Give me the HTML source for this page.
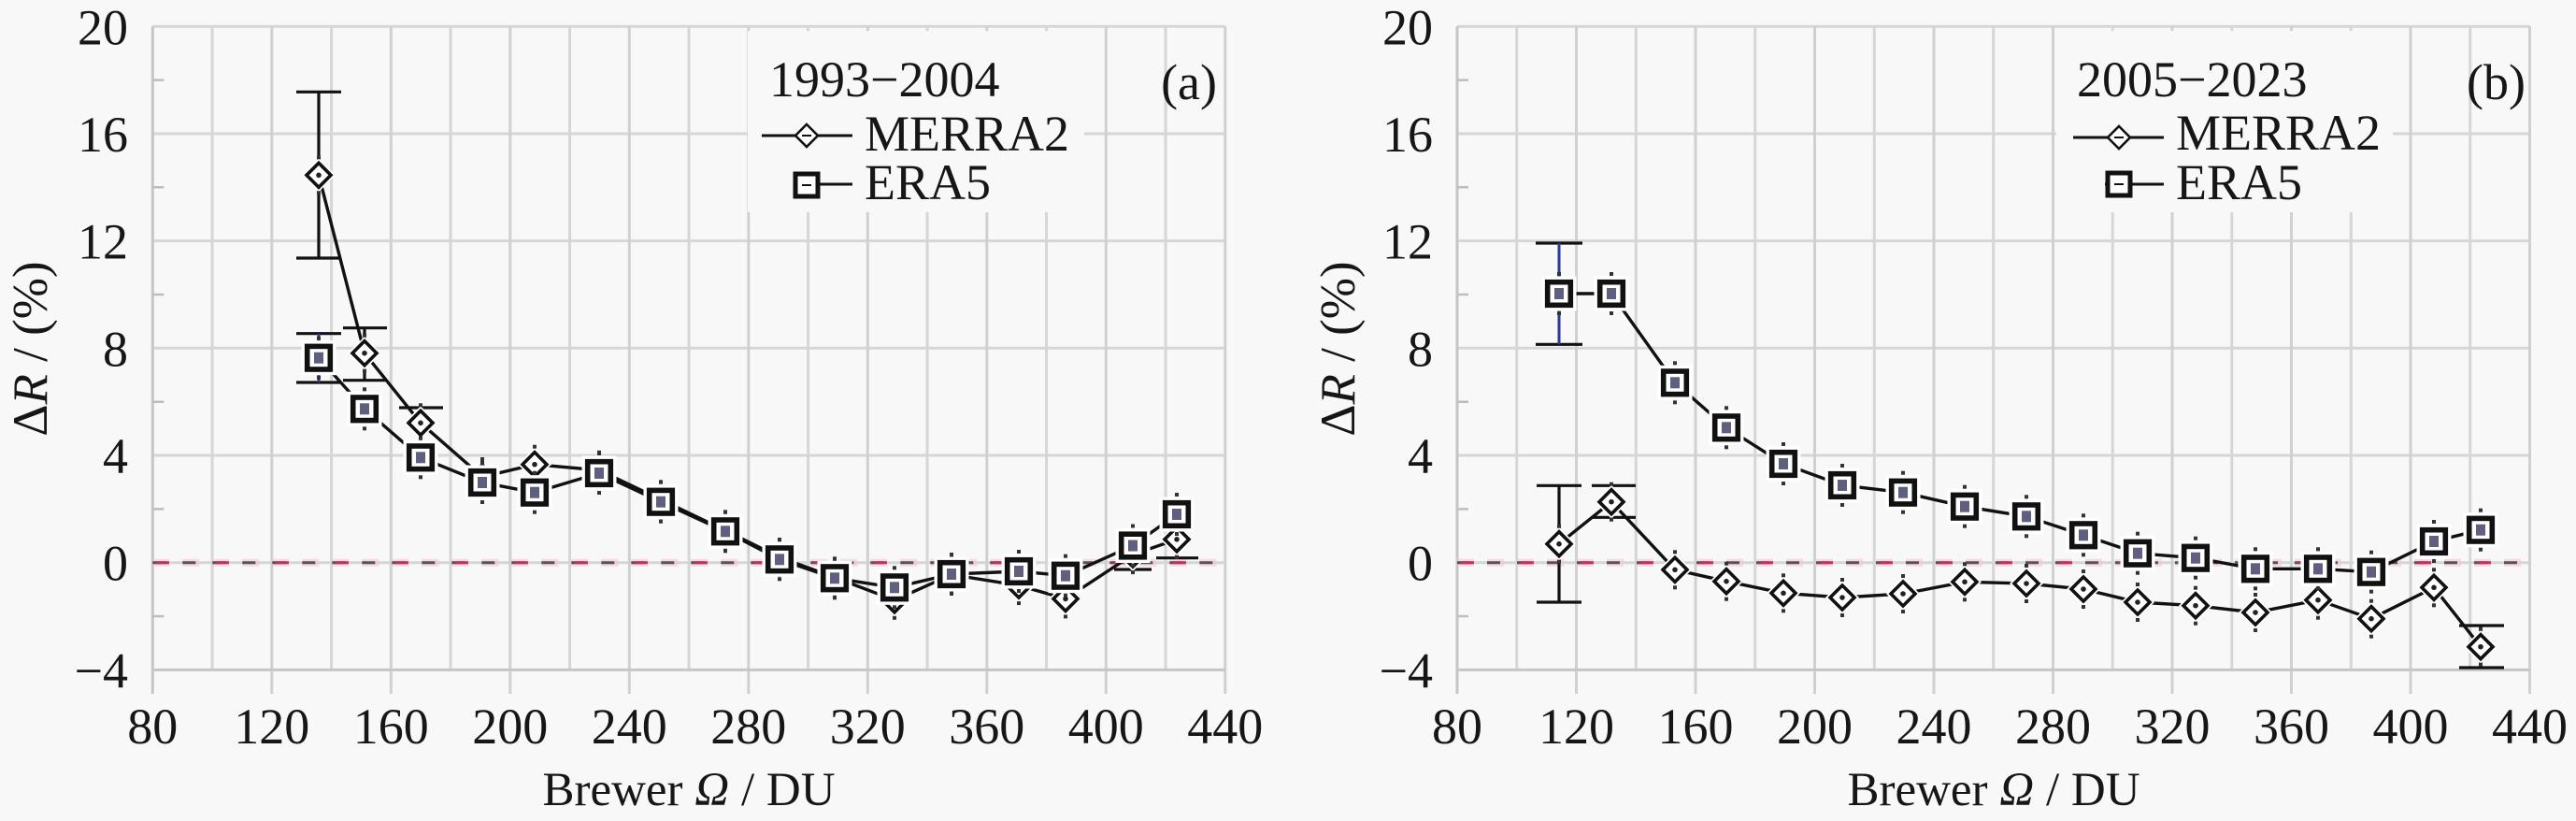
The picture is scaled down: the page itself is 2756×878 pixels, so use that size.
<!DOCTYPE html>
<html><head><meta charset="utf-8"><style>
html,body{margin:0;padding:0;background:#f8f8f8;}
svg{display:block;font-family:"Liberation Serif","Times New Roman",Times,serif;}
svg text{font-family:"Liberation Serif","Times New Roman",Times,serif;fill:#161616;}
</style></head><body>
<svg width="2756" height="878" viewBox="0 0 2756 878" xmlns="http://www.w3.org/2000/svg" font-family="'Liberation Serif', 'Times New Roman', Times, serif" style="font-family:'Liberation Serif','Times New Roman',Times,serif;">
<defs>
<g id="grid">
<path d="M163.3 28.3H1310.8M163.3 143H1310.8M163.3 257.6H1310.8M163.3 372.3H1310.8M163.3 487H1310.8M163.3 601.7H1310.8" stroke="#d6d6d6" stroke-width="3" fill="none"/>
<path d="M227.05 28.3V716.4M354.55 28.3V716.4M482.05 28.3V716.4M609.55 28.3V716.4M737.05 28.3V716.4M864.55 28.3V716.4M992.05 28.3V716.4M1119.55 28.3V716.4M1247.05 28.3V716.4" stroke="#d6d6d6" stroke-width="3" fill="none"/>
<path d="M290.8 28.3V742M418.3 28.3V742M545.8 28.3V742M673.3 28.3V742M800.8 28.3V742M928.3 28.3V742M1055.8 28.3V742M1183.3 28.3V742M1310.8 28.3V742" stroke="#d0d0d0" stroke-width="3" fill="none"/>
<path d="M163.3 28.3V742M163.3 716.4H1310.8" stroke="#c6c6c6" stroke-width="3" fill="none"/>
<path d="M163.3 85.6h12M163.3 200.3h12M163.3 315h12M163.3 429.7h12M163.3 544.4h12M163.3 659h12" stroke="#bdbdbd" stroke-width="2.5" fill="none"/>
</g>
<g id="dia"><polygon points="0,-18 18,0 0,18 -18,0" fill="#ffffff"/><polygon points="0,-13 13,0 0,13 -13,0" fill="#ffffff" stroke="#111" stroke-width="3.6"/><circle r="2.8" fill="#222"/><rect x="-2" y="-21" width="4" height="4" fill="#333"/><rect x="-2" y="17" width="4" height="4" fill="#333"/></g>
<g id="sq"><rect x="-18.5" y="-18.5" width="37" height="37" fill="#ffffff"/><rect x="-12.3" y="-12.3" width="24.6" height="24.6" fill="#ffffff" stroke="#111" stroke-width="5.6"/><rect x="-5" y="-6" width="10" height="12" fill="#2a2a55" opacity="0.75"/><rect x="-2" y="-23" width="4" height="4" fill="#333"/><rect x="-2" y="19" width="4" height="4" fill="#333"/></g>
</defs>

<use href="#grid"/>
<use href="#grid" transform="translate(1395.7,0)"/>

<rect x="800" y="33" width="360" height="194" fill="#f8f8f8"/>
<rect x="2200" y="33" width="360" height="194" fill="#f8f8f8"/>

<g fill="none">
<path d="M163.3 601.7H1310.8M1559 601.7H2706.5" stroke="#f4c6d6" stroke-width="8" stroke-dasharray="18 14" opacity="0.6"/>
<path d="M163.3 601.7H1310.8M1559 601.7H2706.5" stroke="#555" stroke-width="3" stroke-dasharray="14 18"/>
<path d="M167 601.7H1310.8M1563 601.7H2706.5" stroke="#c4325a" stroke-width="3" stroke-dasharray="14 50"/>
</g>

<g stroke="#111" stroke-width="3.2" fill="none">
<path d="M341 98.3V276M317 98.3H365M317 276H365"/>
<path d="M390 350.7V406.7M367 350.7H414M367 406.7H414"/>
<path d="M450 436V468.6M427 436H474"/>
<path d="M1212 577V609M1192 609H1232"/>
<path d="M1259 557V596.7M1237 596.7H1282"/>
<path d="M317 356.7H365M317 409H365"/>
</g>
<path d="M341 356.7V409" stroke="#2b3a9a" stroke-width="3"/>
<polyline fill="none" stroke="#111" stroke-width="3.4" points="341,187.3 390,377.7 450,452.3 516,510 572,496.7 641,502.8 707,534.3 776,567.3 834,596 893,617.5 957,641.8 1018,614.6 1090,626.1 1140,640.4 1212,593.1 1259,576.8"/>
<use href="#dia" x="341" y="187.3"/><use href="#dia" x="390" y="377.7"/><use href="#dia" x="450" y="452.3"/><use href="#dia" x="516" y="510"/><use href="#dia" x="572" y="496.7"/><use href="#dia" x="641" y="502.8"/><use href="#dia" x="707" y="534.3"/><use href="#dia" x="776" y="567.3"/><use href="#dia" x="834" y="596"/><use href="#dia" x="893" y="617.5"/><use href="#dia" x="957" y="641.8"/><use href="#dia" x="1018" y="614.6"/><use href="#dia" x="1090" y="626.1"/><use href="#dia" x="1140" y="640.4"/><use href="#dia" x="1212" y="593.1"/><use href="#dia" x="1259" y="576.8"/>
<polyline fill="none" stroke="#111" stroke-width="3.4" points="341,382.7 390,437.3 450,489.3 516,516 572,526.7 641,506 707,536.7 776,568.3 834,598.3 893,618.3 957,628.3 1018,614 1090,611 1140,615.7 1212,583.5 1259,550"/>
<use href="#sq" x="341" y="382.7"/><use href="#sq" x="390" y="437.3"/><use href="#sq" x="450" y="489.3"/><use href="#sq" x="516" y="516"/><use href="#sq" x="572" y="526.7"/><use href="#sq" x="641" y="506"/><use href="#sq" x="707" y="536.7"/><use href="#sq" x="776" y="568.3"/><use href="#sq" x="834" y="598.3"/><use href="#sq" x="893" y="618.3"/><use href="#sq" x="957" y="628.3"/><use href="#sq" x="1018" y="614"/><use href="#sq" x="1090" y="611"/><use href="#sq" x="1140" y="615.7"/><use href="#sq" x="1212" y="583.5"/><use href="#sq" x="1259" y="550"/>

<g stroke="#111" stroke-width="3.2" fill="none">
<path d="M1643 260H1693M1643 368.3H1693"/>
<path d="M1668 519.3V644M1644 519.3H1692M1644 644H1692"/>
<path d="M1724 519.3V553.3M1703 519.3H1750M1703 553.3H1750"/>
<path d="M2654 669V714M2631 669H2679M2631 714H2679"/>
</g>
<path d="M1668 260V368.3" stroke="#2b3a9a" stroke-width="3"/>
<polyline fill="none" stroke="#111" stroke-width="3.4" points="1668,581.7 1724,536.7 1792,609.3 1847,621.7 1908,634.3 1971,639 2036,635 2102,622.3 2168,624 2229,630 2287,644 2349,647.7 2413,655 2480,641.7 2537,661.7 2604,628.3 2654,691.7"/>
<use href="#dia" x="1668" y="581.7"/><use href="#dia" x="1724" y="536.7"/><use href="#dia" x="1792" y="609.3"/><use href="#dia" x="1847" y="621.7"/><use href="#dia" x="1908" y="634.3"/><use href="#dia" x="1971" y="639"/><use href="#dia" x="2036" y="635"/><use href="#dia" x="2102" y="622.3"/><use href="#dia" x="2168" y="624"/><use href="#dia" x="2229" y="630"/><use href="#dia" x="2287" y="644"/><use href="#dia" x="2349" y="647.7"/><use href="#dia" x="2413" y="655"/><use href="#dia" x="2480" y="641.7"/><use href="#dia" x="2537" y="661.7"/><use href="#dia" x="2604" y="628.3"/><use href="#dia" x="2654" y="691.7"/>
<polyline fill="none" stroke="#111" stroke-width="3.4" points="1668,314 1724,314 1792,409.3 1847,457.3 1908,496 1971,519 2036,526.7 2102,541.7 2168,552.3 2229,572.3 2287,591.7 2349,596.7 2413,608.3 2480,608.3 2537,611.7 2604,579 2654,566.7"/>
<use href="#sq" x="1668" y="314"/><use href="#sq" x="1724" y="314"/><use href="#sq" x="1792" y="409.3"/><use href="#sq" x="1847" y="457.3"/><use href="#sq" x="1908" y="496"/><use href="#sq" x="1971" y="519"/><use href="#sq" x="2036" y="526.7"/><use href="#sq" x="2102" y="541.7"/><use href="#sq" x="2168" y="552.3"/><use href="#sq" x="2229" y="572.3"/><use href="#sq" x="2287" y="591.7"/><use href="#sq" x="2349" y="596.7"/><use href="#sq" x="2413" y="608.3"/><use href="#sq" x="2480" y="608.3"/><use href="#sq" x="2537" y="611.7"/><use href="#sq" x="2604" y="579"/><use href="#sq" x="2654" y="566.7"/>

<g stroke="#111" stroke-width="3" fill="none">
<path d="M815 145H851M875 145H912M849 197H912"/>
<path d="M2218 147H2255M2279 147H2315M2252 197H2315"/>
</g>
<polygon points="863,133 875,145 863,157 851,145" fill="#fff" stroke="#111" stroke-width="2.6"/>
<path d="M858 145h10" stroke="#111" stroke-width="2"/>
<rect x="851" y="186" width="24" height="24" fill="#fff" stroke="#111" stroke-width="5"/>
<path d="M858 198h10" stroke="#111" stroke-width="2"/>
<polygon points="2267,135 2279,147 2267,159 2255,147" fill="#fff" stroke="#111" stroke-width="2.6"/>
<path d="M2262 147h10" stroke="#111" stroke-width="2"/>
<rect x="2255" y="185" width="24" height="24" fill="#fff" stroke="#111" stroke-width="5"/>
<path d="M2262 197h10" stroke="#111" stroke-width="2"/>

<g font-size="54" font-family="'Liberation Serif', 'Times New Roman', Times, serif" style="font-family:'Liberation Serif','Times New Roman',Times,serif" fill="#161616">
<text x="823" y="103">1993−2004</text>
<text x="925" y="161">MERRA2</text>
<text x="925" y="213">ERA5</text>
<text x="1302" y="106" text-anchor="end">(a)</text>
<text x="2222" y="103">2005−2023</text>
<text x="2328" y="160">MERRA2</text>
<text x="2328" y="213">ERA5</text>
<text x="2702" y="106" text-anchor="end">(b)</text>
</g>

<g font-size="54" text-anchor="end" font-family="'Liberation Serif', 'Times New Roman', Times, serif" style="font-family:'Liberation Serif','Times New Roman',Times,serif" fill="#161616">
<text x="137" y="47.5">20</text><text x="137" y="162">16</text><text x="137" y="276.6">12</text><text x="137" y="391.3">8</text><text x="137" y="506">4</text><text x="137" y="620.7">0</text><text x="137" y="735.4">−4</text>
<text x="1533" y="47.5">20</text><text x="1533" y="162">16</text><text x="1533" y="276.6">12</text><text x="1533" y="391.3">8</text><text x="1533" y="506">4</text><text x="1533" y="620.7">0</text><text x="1533" y="735.4">−4</text>
</g>
<g font-size="54" text-anchor="middle" font-family="'Liberation Serif', 'Times New Roman', Times, serif" style="font-family:'Liberation Serif','Times New Roman',Times,serif" fill="#161616">
<text x="163.3" y="795">80</text><text x="290.8" y="795">120</text><text x="418.3" y="795">160</text><text x="545.8" y="795">200</text><text x="673.3" y="795">240</text><text x="800.8" y="795">280</text><text x="928.3" y="795">320</text><text x="1055.8" y="795">360</text><text x="1183.3" y="795">400</text><text x="1310.8" y="795">440</text>
<text x="1559" y="795">80</text><text x="1686.5" y="795">120</text><text x="1814" y="795">160</text><text x="1941.5" y="795">200</text><text x="2069" y="795">240</text><text x="2196.5" y="795">280</text><text x="2324" y="795">320</text><text x="2451.5" y="795">360</text><text x="2579" y="795">400</text><text x="2706.5" y="795">440</text>
</g>
<g font-size="51" text-anchor="middle" font-family="'Liberation Serif', 'Times New Roman', Times, serif" style="font-family:'Liberation Serif','Times New Roman',Times,serif" fill="#161616">
<text x="737" y="861">Brewer <tspan font-style="italic">Ω</tspan> / DU</text>
<text x="2133" y="861">Brewer <tspan font-style="italic">Ω</tspan> / DU</text>
</g>
<g font-size="53" text-anchor="middle" font-family="'Liberation Serif', 'Times New Roman', Times, serif" style="font-family:'Liberation Serif','Times New Roman',Times,serif" fill="#161616">
<text transform="translate(50,373) rotate(-90)">Δ<tspan font-style="italic">R</tspan> / (%)</text>
<text transform="translate(1449,373) rotate(-90)">Δ<tspan font-style="italic">R</tspan> / (%)</text>
</g>
</svg>
</body></html>
